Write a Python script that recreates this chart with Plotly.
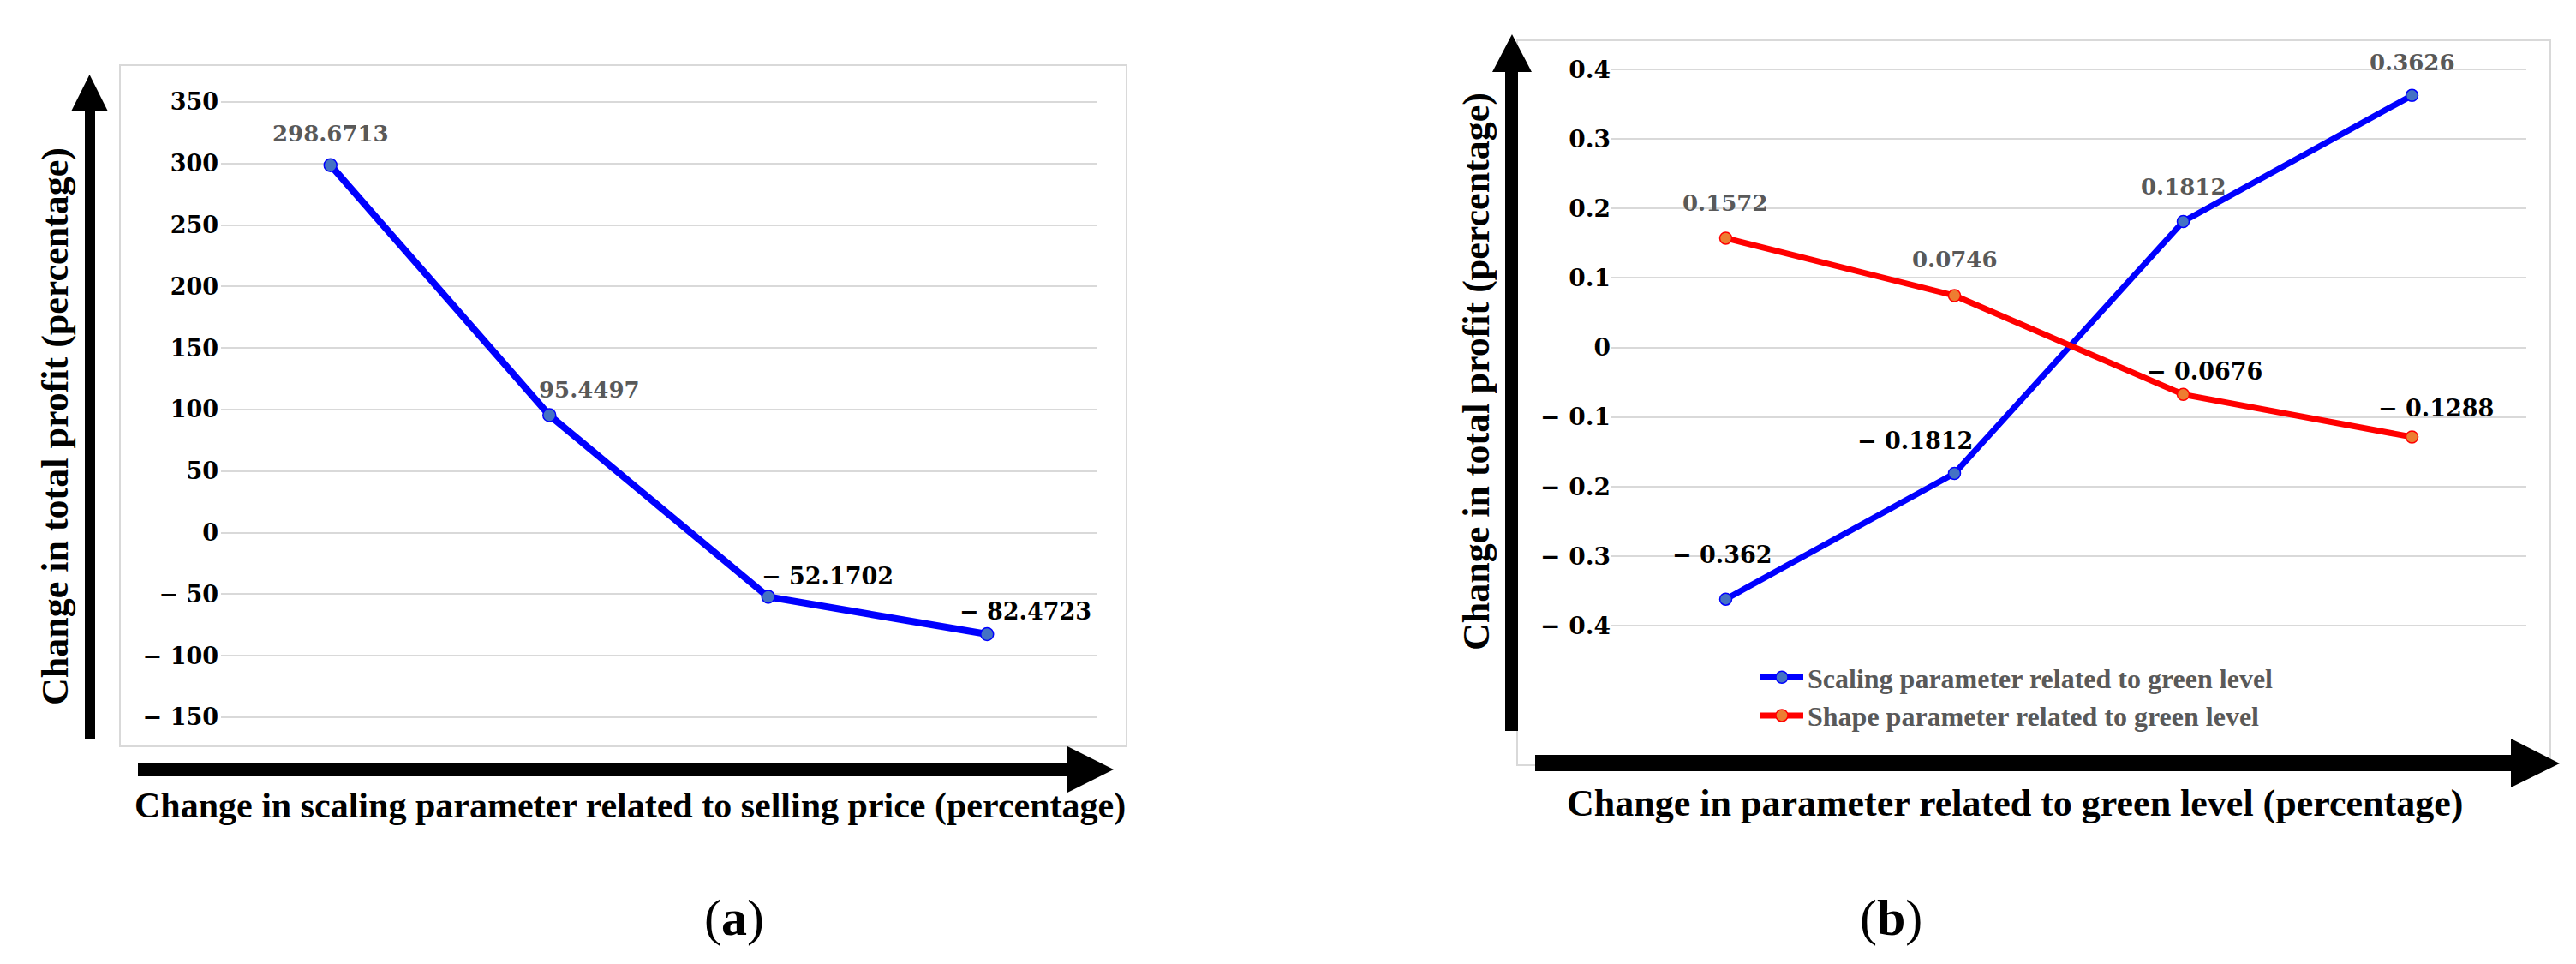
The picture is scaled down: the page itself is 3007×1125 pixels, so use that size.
import plotly.graph_objects as go

# ---------------- data ----------------
x_categories = ["1", "2", "3", "4"]
selling_price_profit = [298.6713, 95.4497, -52.1702, -82.4723]
green_scaling_profit = [-0.362, -0.1812, 0.1812, 0.3626]
green_shape_profit = [0.1572, 0.0746, -0.0676, -0.1288]

left_tick_vals = [350, 300, 250, 200, 150, 100, 50, 0, -50, -100, -150]
left_tick_text = ["350", "300", "250", "200", "150", "100", "50", "0", "− 50", "− 100", "− 150"]
right_tick_vals = [0.4, 0.3, 0.2, 0.1, 0, -0.1, -0.2, -0.3, -0.4]
right_tick_text = ["0.4", "0.3", "0.2", "0.1", "0", "− 0.1", "− 0.2", "− 0.3", "− 0.4"]

series_names = ["Scaling parameter related to green level", "Shape parameter related to green level"]
left_x_title = "Change in scaling parameter related to selling price (percentage)"
right_x_title = "Change in parameter related to green level (percentage)"
y_title = "Change in total profit (percentage)"
panel_labels = ["(<b>a</b>)", "(<b>b</b>)"]

# ---------------- layout helpers ----------------
W, H = 3007, 1125


def px(x):
    return x / W


def py(y):
    return 1 - y / H


SERIF = "Liberation Serif"
NUM = "DejaVu Serif"
GRID = "#d9d9d9"


def fmt(v):
    s = repr(abs(v))
    return s if v >= 0 else "− " + s


fig = go.Figure()

# left chart
fig.add_trace(go.Scatter(
    x=x_categories, y=selling_price_profit, mode="lines+markers",
    line=dict(color="#0000ff", width=8),
    marker=dict(size=15, color="#4472c4", line=dict(color="#0000ff", width=1.5)),
    xaxis="x", yaxis="y", showlegend=False))

# right chart
fig.add_trace(go.Scatter(
    x=x_categories, y=green_scaling_profit, mode="lines+markers", name=series_names[0],
    line=dict(color="#0000ff", width=7),
    marker=dict(size=14, color="#4472c4", line=dict(color="#0000ff", width=1.5)),
    xaxis="x2", yaxis="y2"))
fig.add_trace(go.Scatter(
    x=x_categories, y=green_shape_profit, mode="lines+markers", name=series_names[1],
    line=dict(color="#ff0000", width=7),
    marker=dict(size=14, color="#ed7d31", line=dict(color="#ff0000", width=1.5)),
    xaxis="x2", yaxis="y2"))

axis_common = dict(showline=False, zeroline=False, ticks="")

fig.update_layout(
    width=W, height=H,
    margin=dict(l=0, r=0, t=0, b=0),
    paper_bgcolor="white", plot_bgcolor="white",
    xaxis=dict(type="category", domain=[px(250), px(1272)], range=[-0.5, 3.5], showgrid=False,
               showticklabels=False, anchor="y", **axis_common),
    yaxis=dict(domain=[py(864.9), py(75.1)], range=[-175, 375], anchor="x",
               tickvals=left_tick_vals, ticktext=left_tick_text,
               showgrid=True, gridcolor=GRID, gridwidth=1.5,
               tickfont=dict(family=NUM, size=27, color="black", weight="bold"),
               ticklabelstandoff=2, **axis_common),
    xaxis2=dict(type="category", domain=[px(1873), px(2941)], range=[-0.5, 3.5], showgrid=False,
                showticklabels=False, anchor="y2", **axis_common),
    yaxis2=dict(domain=[py(762.6), py(32.4)], range=[-0.45, 0.45], anchor="x2",
                tickvals=right_tick_vals, ticktext=right_tick_text,
                showgrid=True, gridcolor=GRID, gridwidth=1.5,
                tickfont=dict(family=NUM, size=28, color="black", weight="bold"),
                ticklabelstandoff=0, **axis_common),
    legend=dict(x=px(2042), y=py(755), xanchor="left", yanchor="top",
                bgcolor="rgba(0,0,0,0)",
                font=dict(family=SERIF, size=32, color="#595959", weight="bold"),
                itemwidth=50, tracegroupgap=0),
)

# ---------------- shapes: chart-area borders and arrows ----------------
shapes = []
for (x0, y0, x1, y1) in [(132, 68, 1307, 863), (1763, 39, 2969, 885)]:
    shapes.append(dict(type="rect", xref="paper", yref="paper", layer="below",
                       x0=px(x0), y0=py(y0), x1=px(x1), y1=py(y1),
                       line=dict(color=GRID, width=2), fillcolor="rgba(0,0,0,0)"))


def poly(points):
    return "M " + " L ".join(f"{px(a):.6f},{py(b):.6f}" for a, b in points) + " Z"


arrows = [
    # left vertical
    [(91, 855), (91, 122), (75, 122), (96.5, 79), (118, 122), (103, 122), (103, 855)],
    # left horizontal
    [(153, 882), (1238, 882), (1238, 863), (1292, 890), (1238, 917), (1238, 898), (153, 898)],
    # right vertical
    [(1749, 845), (1749, 76), (1734, 76), (1757, 32), (1780, 76), (1764, 76), (1764, 845)],
    # right horizontal
    [(1784, 873), (2923, 873), (2923, 854), (2980, 883), (2923, 911), (2923, 892), (1784, 892)],
]
for pts in arrows:
    shapes.append(dict(type="path", xref="paper", yref="paper", path=poly(pts),
                       fillcolor="black", line=dict(color="black", width=0)))
fig.update_layout(shapes=shapes)

# ---------------- annotations ----------------
ann = []

# data labels (offsets in pixels relative to each point)
label_offsets = {
    "left": [(0, 37), (47, 30), (69, 24), (45, 27)],
    "blue": [(-4, 52), (-46, 38), (0, 40), (0, 38)],
    "red": [(0, 41), (0, 42), (25, 27), (28, 34)],
}
for key, vals, xr, yr in [("left", selling_price_profit, "x", "y"),
                          ("blue", green_scaling_profit, "x2", "y2"),
                          ("red", green_shape_profit, "x2", "y2")]:
    for i, v in enumerate(vals):
        dx, dy = label_offsets[key][i]
        neg = v < 0
        ann.append(dict(x=i, y=v, xref=xr, yref=yr, text=fmt(v),
                        showarrow=False, xshift=dx, yshift=dy,
                        xanchor="center", yanchor="middle",
                        font=dict(family=NUM, size=27 if neg else 26,
                                  color="black" if neg else "#595959",
                                  weight="bold")))

# axis titles
ann.append(dict(x=px(727), y=py(932), xref="paper", yref="paper", text=left_x_title,
                showarrow=False, xanchor="center", yanchor="middle",
                font=dict(family=SERIF, size=42, color="black", weight="bold")))
ann.append(dict(x=px(2344), y=py(929), xref="paper", yref="paper", text=right_x_title,
                showarrow=False, xanchor="center", yanchor="middle",
                font=dict(family=SERIF, size=44, color="black", weight="bold")))
ann.append(dict(x=px(57), y=py(490), xref="paper", yref="paper", text=y_title,
                showarrow=False, textangle=-90, xanchor="center", yanchor="middle",
                font=dict(family=SERIF, size=44, color="black", weight="bold")))
ann.append(dict(x=px(1715), y=py(426), xref="paper", yref="paper", text=y_title,
                showarrow=False, textangle=-90, xanchor="center", yanchor="middle",
                font=dict(family=SERIF, size=44, color="black", weight="bold")))

# panel labels
for lbl, cx in zip(panel_labels, [849, 2199]):
    ann.append(dict(x=px(cx), y=py(1063), xref="paper", yref="paper", text=lbl,
                    showarrow=False, xanchor="center", yanchor="middle",
                    font=dict(family=SERIF, size=60, color="black")))

fig.update_layout(annotations=ann)

fig.write_html("out.html")
